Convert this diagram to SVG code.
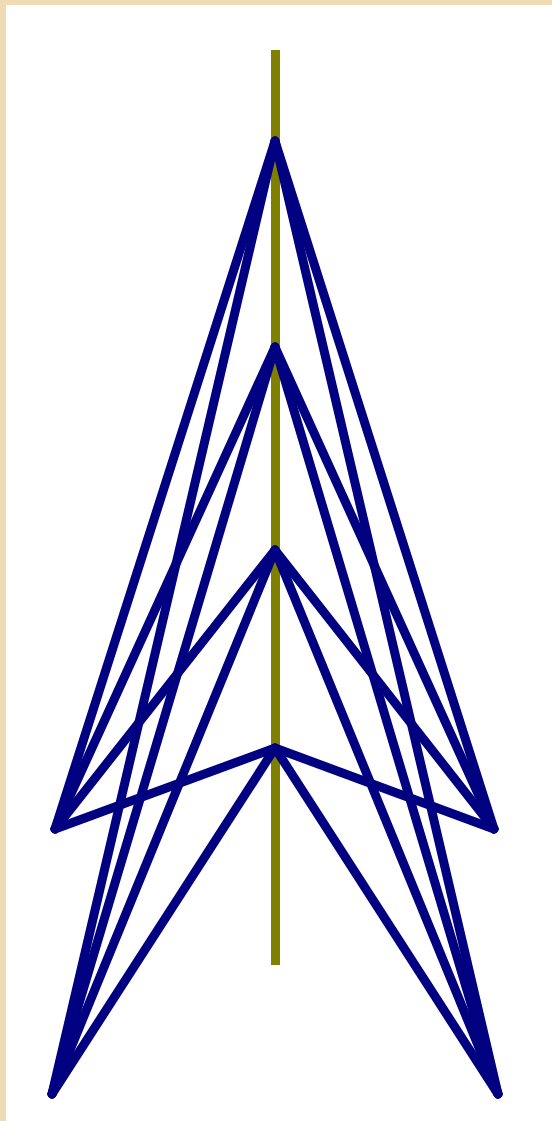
<svg xmlns="http://www.w3.org/2000/svg" width="552" height="1121" viewBox="0 0 552 1121">
<style>
.mast{stroke:#808000;stroke-width:9;fill:none}
.w{stroke:#000080;stroke-width:9;fill:none;stroke-linecap:round;stroke-linejoin:round}
</style>
<rect x="0" y="0" width="552" height="1121" fill="#EFDCB4"/>
<rect x="6" y="5" width="546" height="1116" fill="#FFFFFF"/>
<g id="mast"><line class="mast" x1="275.5" y1="50" x2="275.5" y2="965"/></g>
<g id="connectors">
<line class="w" x1="275" y1="141" x2="55" y2="829"/>
<line class="w" x1="275" y1="141" x2="52" y2="1094"/>
<line class="w" x1="275" y1="141" x2="494" y2="829"/>
<line class="w" x1="275" y1="141" x2="498" y2="1094"/>
<line class="w" x1="275" y1="347" x2="55" y2="829"/>
<line class="w" x1="275" y1="347" x2="52" y2="1094"/>
<line class="w" x1="275" y1="347" x2="494" y2="829"/>
<line class="w" x1="275" y1="347" x2="498" y2="1094"/>
<line class="w" x1="275" y1="550" x2="55" y2="829"/>
<line class="w" x1="275" y1="550" x2="52" y2="1094"/>
<line class="w" x1="275" y1="550" x2="494" y2="829"/>
<line class="w" x1="275" y1="550" x2="498" y2="1094"/>
<line class="w" x1="275" y1="748" x2="55" y2="829"/>
<line class="w" x1="275" y1="748" x2="52" y2="1094"/>
<line class="w" x1="275" y1="748" x2="494" y2="829"/>
<line class="w" x1="275" y1="748" x2="498" y2="1094"/>
</g>
</svg>
